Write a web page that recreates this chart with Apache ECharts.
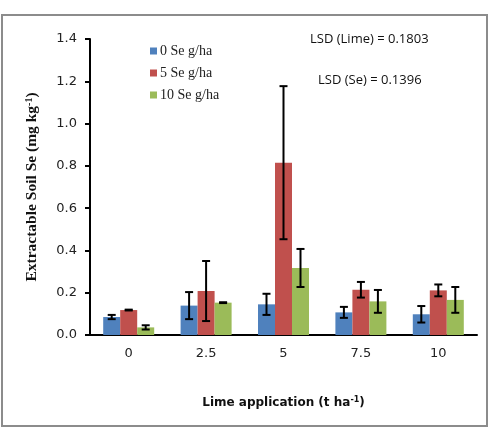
<!DOCTYPE html>
<html>
<head>
<meta charset="utf-8">
<script src="https://cdn.jsdelivr.net/npm/echarts@6/dist/echarts.min.js"></script>
<style>
  html, body { margin: 0; padding: 0; background: #fff; }
  #frame {
    position: absolute; left: 1px; top: 14px; width: 487px; height: 413px;
    border: 2px solid #8c8c8c; box-sizing: border-box;
  }
  #chart { position: absolute; left: 0; top: 0; width: 495px; height: 436px; }
</style>
</head>
<body>
<div id="frame"></div>
<div id="chart"></div>
<script>
// data
const limeRates = ["0", "2.5", "5", "7.5", "10"];
const seriesNames = ["0 Se g/ha", "5 Se g/ha", "10 Se g/ha"];
const se0 = [0.085, 0.139, 0.145, 0.107, 0.098];
const se5 = [0.118, 0.208, 0.815, 0.214, 0.211];
const se10 = [0.036, 0.153, 0.317, 0.159, 0.166];
const err0 = [0.010, 0.064, 0.050, 0.026, 0.039];
const err5 = [0.002, 0.142, 0.362, 0.037, 0.028];
const err10 = [0.010, 0.002, 0.090, 0.054, 0.061];
const colors = ["#4f81bd", "#c0504d", "#9bbb59"];

const values = [se0, se5, se10];
const errors = [err0, err5, err10];
const barW = 17;

var chart = echarts.init(document.getElementById("chart"));

// error bar data: [category, low, high, seriesIndex]
function errData(k) {
  return values[k].map((v, i) => [i, v - errors[k][i], v + errors[k][i], k]);
}

function renderErr(params, api) {
  const cat = api.value(0);
  const k = api.value(3);
  const lo = api.coord([cat, api.value(1)]);
  const hi = api.coord([cat, api.value(2)]);
  const x = lo[0] + (k - 1) * barW;
  const cap = 4;
  const style = { stroke: "#000", lineWidth: 2 };
  return {
    type: "group",
    children: [
      { type: "line", shape: { x1: x, y1: lo[1], x2: x, y2: hi[1] }, style: style },
      { type: "line", shape: { x1: x - cap, y1: lo[1], x2: x + cap, y2: lo[1] }, style: style },
      { type: "line", shape: { x1: x - cap, y1: hi[1], x2: x + cap, y2: hi[1] }, style: style },
    ],
  };
}

const series = [];
seriesNames.forEach((name, k) => {
  series.push({
    name: name,
    type: "bar",
    data: values[k],
    barWidth: barW,
    barGap: "0%",
    itemStyle: { color: colors[k] },
  });
});
seriesNames.forEach((name, k) => {
  series.push({
    type: "custom",
    data: errData(k),
    renderItem: renderErr,
    encode: { x: 0, y: [1, 2] },
    z: 10,
    silent: true,
  });
});

chart.setOption({
  animation: false,
  grid: { left: 90, right: 18, top: 39, bottom: 101 },
  legend: {
    orient: "vertical",
    left: 145,
    top: 39,
    itemGap: 8,
    itemWidth: 7,
    itemHeight: 7,
    icon: "rect",
    data: seriesNames,
    textStyle: { fontFamily: "Liberation Serif", fontSize: 14, color: "#222", padding: [0, 0, 0, -2] },
  },
  xAxis: {
    type: "category",
    data: limeRates,
    axisLine: { lineStyle: { color: "#000", width: 2 } },
    axisTick: { length: 5, lineStyle: { color: "#000", width: 2 } },
    axisLabel: { fontFamily: "DejaVu Sans", fontSize: 13, color: "#222", margin: 12 },
    name: "Lime application (t ha{sup|-1})",
    nameLocation: "middle",
    nameGap: 61,
    nameTextStyle: {
      fontFamily: "DejaVu Sans", fontWeight: "bold", fontSize: 12, color: "#111",
      rich: { sup: { fontFamily: "DejaVu Sans", fontWeight: "bold", fontSize: 8, verticalAlign: "top", padding: [0, 0, 6, 0], color: "#111" } },
    },
  },
  yAxis: {
    type: "value",
    min: 0,
    max: 1.4,
    interval: 0.2,
    splitLine: { show: false },
    axisLine: { show: true, lineStyle: { color: "#000", width: 2 } },
    axisTick: { show: true, length: 5, lineStyle: { color: "#000", width: 2 } },
    axisLabel: {
      fontFamily: "DejaVu Sans", fontSize: 13, color: "#222", margin: 13,
      formatter: (v) => v.toFixed(1),
    },
    name: "Extractable Soil Se (mg kg{sup|-1})",
    nameLocation: "middle",
    nameGap: 50,
    nameTextStyle: {
      fontFamily: "Liberation Serif", fontWeight: "bold", fontSize: 15.5, color: "#111",
      rich: { sup: { fontFamily: "Liberation Serif", fontWeight: "bold", fontSize: 10, verticalAlign: "top", color: "#111" } },
    },
  },
  graphic: [
    { type: "text", left: 310, top: 33, style: { text: "LSD (Lime) = 0.1803", font: "13px 'Open Sans'", fill: "#111" } },
    { type: "text", left: 318, top: 74, style: { text: "LSD (Se) = 0.1396", font: "13px 'Open Sans'", fill: "#111" } },
  ],
  series: series,
});
</script>
</body>
</html>
